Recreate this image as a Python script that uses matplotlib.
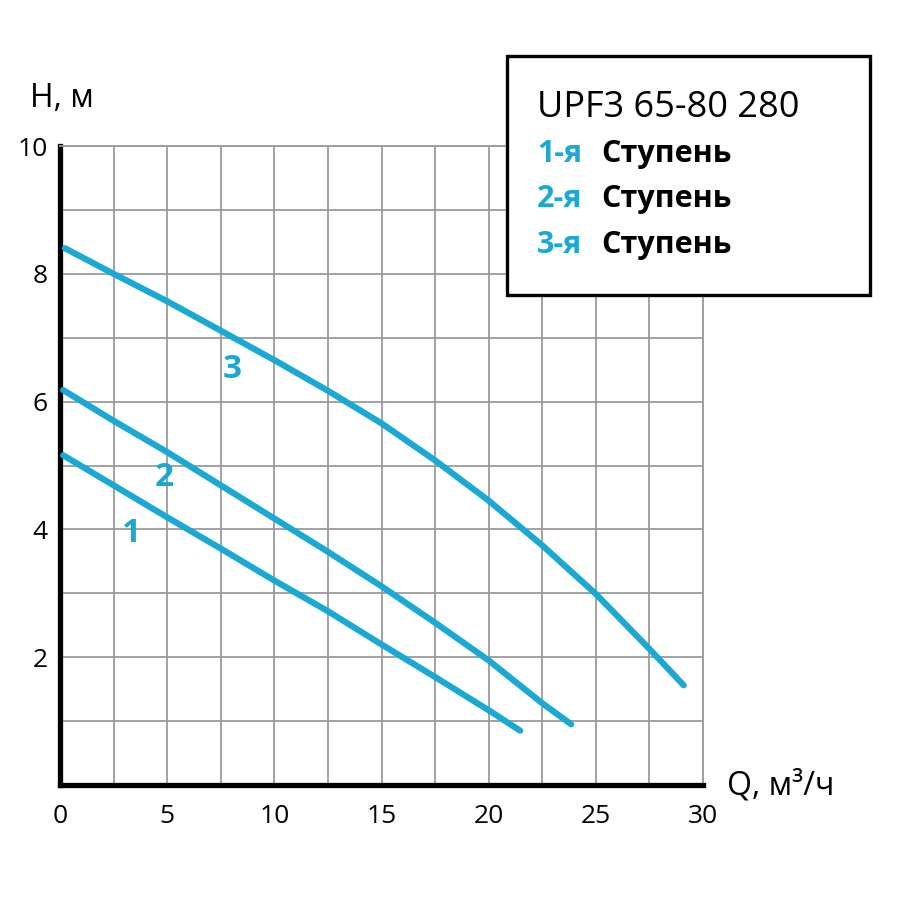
import matplotlib
matplotlib.use("Agg")
import matplotlib.pyplot as plt

plt.rcParams['font.family'] = ['Open Sans', 'DejaVu Sans']

# ---- data ----
q1 = [0.15, 2.5, 5, 7.5, 10, 12.5, 15, 17.5, 20, 21.47]
h1 = [5.16, 4.69, 4.19, 3.70, 3.20, 2.72, 2.20, 1.69, 1.17, 0.85]
q2 = [0.15, 2.5, 5, 7.5, 10, 12.5, 15, 17.5, 20, 22.5, 23.85]
h2 = [6.18, 5.70, 5.21, 4.69, 4.17, 3.65, 3.11, 2.54, 1.95, 1.28, 0.95]
q3 = [0.23, 2.5, 5, 7.5, 10, 12.5, 15, 17.5, 20, 22.5, 25, 27.5, 29.1]
h3 = [8.40, 8.00, 7.57, 7.11, 6.65, 6.17, 5.66, 5.08, 4.45, 3.75, 2.99, 2.13, 1.56]
labels = ["1", "2", "3"]
label_pos = [(3.32, 3.93), (4.87, 4.82), (8.05, 6.51)]

x_ticks = [0, 5, 10, 15, 20, 25, 30]
y_ticks = [2, 4, 6, 8, 10]
title = "UPF3 65-80 280"
stages = ["1-я", "2-я", "3-я"]
stage_word = "Ступень"

CYAN = "#1aa9d3"
GRID = "#9b9b9b"

fig = plt.figure(figsize=(9, 9), dpi=100)
ax = fig.add_axes([60/900, 115/900, 643/900, 639/900])
ax.set_xlim(0, 30)
ax.set_ylim(0, 10)

ax.set_xticks(x_ticks)
ax.set_yticks(y_ticks)
ax.set_xticks([v * 2.5 for v in range(13)], minor=True)
ax.set_yticks(list(range(11)), minor=True)
ax.grid(True, which='both', color=GRID, lw=1.3, zorder=0)
ax.set_axisbelow(True)
ax.tick_params(which='both', length=0)
ax.tick_params(axis='x', labelsize=19, pad=14)
ax.tick_params(axis='y', labelsize=19, pad=9)

for s in ['left', 'bottom']:
    ax.spines[s].set_linewidth(3.8)
    ax.spines[s].set_color('black')
    ax.spines[s].set_capstyle('projecting')
for s in ['top', 'right']:
    ax.spines[s].set_linewidth(1.3)
    ax.spines[s].set_color(GRID)

for q, h in [(q1, h1), (q2, h2), (q3, h3)]:
    ax.plot(q, h, color=CYAN, lw=4.5, solid_capstyle='round', solid_joinstyle='round', zorder=3)
for lab, pos in zip(labels, label_pos):
    ax.text(pos[0], pos[1], lab, color=CYAN, fontsize=24, fontweight='bold',
            ha='center', va='center', zorder=4)

fig.text(30/900, 1 - 107/900, "H, м", fontsize=23, ha='left', va='baseline')
fig.text(727/900, 1 - 794/900, "Q, м³/ч", fontsize=23, ha='left', va='baseline')

# legend box
box = plt.Rectangle((507/900, 1 - 295/900), (870 - 507)/900, (295 - 56)/900,
                    transform=fig.transFigure, facecolor='white', edgecolor='black',
                    lw=2.4, zorder=5)
fig.patches.append(box)
fig.text(537/900, 1 - 117/900, title, fontsize=26, ha='left', va='baseline', zorder=6)
baselines = [162, 207, 253]
for st, b in zip(stages, baselines):
    fig.text(537/900, 1 - b/900, st, fontsize=22, fontweight='bold',
             color=CYAN, ha='left', va='baseline', zorder=6)
    fig.text(601/900, 1 - b/900, stage_word, fontsize=22, fontweight='bold',
             color='black', ha='left', va='baseline', zorder=6)

fig.savefig("out.png", dpi=100)
